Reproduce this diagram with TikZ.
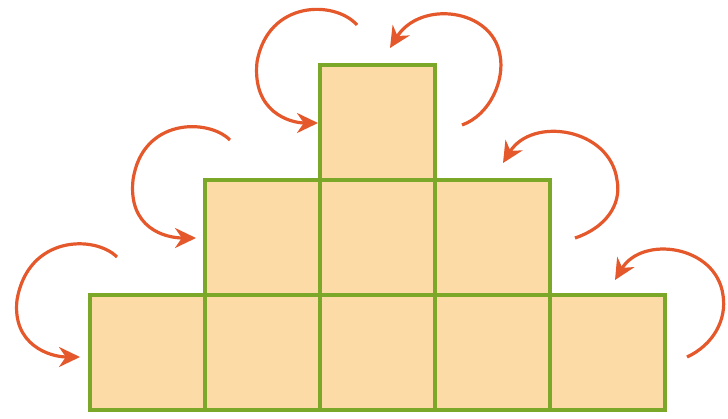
\documentclass[tikz,border=0pt]{standalone}
\usetikzlibrary{arrows.meta}
\definecolor{peach}{HTML}{FDDBA6}
\definecolor{sqgreen}{HTML}{7CA82A}
\definecolor{arrorange}{HTML}{E5582B}
\begin{document}
\begin{tikzpicture}[x=0.5pt,y=-0.5pt,
  sq/.style={draw=sqgreen,fill=peach,line width=1.8pt,minimum size=57.5pt,inner sep=0pt,outer sep=0pt},
  turn/.style={draw=arrorange,line width=1.6pt,-{Stealth[length=10.5pt,width=10pt]}}]
\useasboundingbox (0,0) rectangle (728,418);
% bottom row
\foreach \i in {0,...,4}{
  \node[sq] (b\i) at ({147.5+115*\i},352.5) {};
}
% middle row
\foreach \i in {0,...,2}{
  \node[sq] (m\i) at ({262.5+115*\i},237.5) {};
}
% top
\node[sq] (t0) at (377.5,122.5) {};
% arrow coordinates
\coordinate (s1) at (117,257); \coordinate (e1) at (80,357);
\coordinate (s2) at (230,140); \coordinate (e2) at (196,238);
\coordinate (s3) at (357,25);  \coordinate (e3) at (318,123);
\coordinate (s4) at (462,125); \coordinate (e4) at (390,48);
\coordinate (s5) at (575,238); \coordinate (e5) at (503,163);
\coordinate (s6) at (687,357); \coordinate (e6) at (615,280);
\draw[turn] (s1) .. controls (95,235) and (28,235) .. (17,300) .. controls (12,345) and (50,357) .. (e1);
\draw[turn] (s2) .. controls (208,118) and (142,118) .. (133,180) .. controls (128,228) and (165,238) .. (e2);
\draw[turn] (s3) .. controls (335,0) and (268,0) .. (257,62) .. controls (252,112) and (290,123) .. (e3);
\draw[turn] (s4) .. controls (490,115) and (505,80) .. (500,55) .. controls (492,8) and (420,0) .. (e4);
\draw[turn] (s5) .. controls (605,228) and (622,205) .. (617,180) .. controls (610,128) and (532,116) .. (e5);
\draw[turn] (s6) .. controls (713,345) and (727,320) .. (723,295) .. controls (716,245) and (642,235) .. (e6);
\end{tikzpicture}
\end{document}
